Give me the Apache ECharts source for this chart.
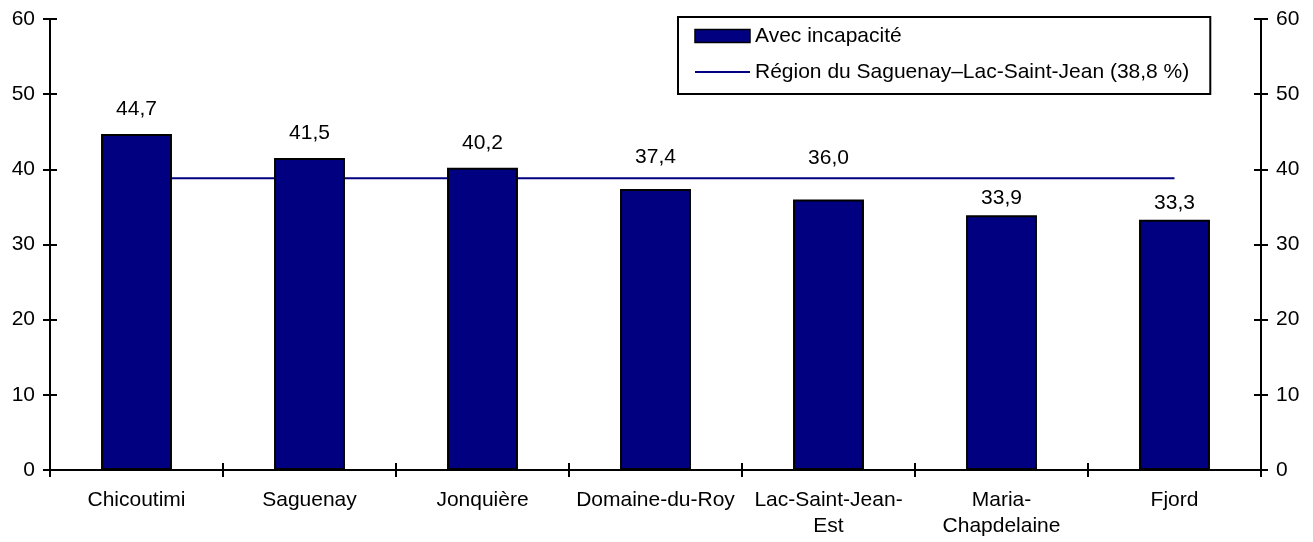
<!DOCTYPE html>
<html>
<head>
<meta charset="utf-8">
<script src="https://cdn.jsdelivr.net/npm/echarts@6/dist/echarts.min.js"></script>
<style>
  body { margin: 0; padding: 0; background: #fff; }
  #chart { width: 1313px; height: 542px; }
</style>
</head>
<body>
<div id="chart"></div>
<script>
// categories and values
const regions = ["Chicoutimi", "Saguenay", "Jonquière", "Domaine-du-Roy", "Lac-Saint-Jean-\nEst", "Maria-\nChapdelaine", "Fjord"];
const withDisability = [44.7, 41.5, 40.2, 37.4, 36.0, 33.9, 33.3];
const regionAverage = [38.8, 38.8, 38.8, 38.8, 38.8, 38.8, 38.8];
const yTicks = { min: 0, max: 60, step: 10 };

const font = "Liberation Sans, Arial, sans-serif";
const fs = 21;
const navy = "#000080";
// labels were nudged by hand in the original to clear the average line
const labelDistance = [14, 14, 14, 21, 31, 6, 6];

function yAx(pos, inside, showLabel) {
  return {
    type: "value",
    position: pos,
    min: yTicks.min,
    max: yTicks.max,
    interval: yTicks.step,
    splitLine: { show: false },
    axisLine: { show: true, lineStyle: { color: "#000", width: 2 } },
    axisTick: { show: true, inside: inside, length: 7, lineStyle: { color: "#000", width: 2 } },
    axisLabel: { show: showLabel, color: "#000", fontFamily: font, fontSize: fs, margin: 15 }
  };
}

function xAx(inside, showLabel) {
  return {
    type: "category",
    data: regions,
    position: "bottom",
    axisLine: { show: true, lineStyle: { color: "#000", width: 2 } },
    axisTick: { show: true, inside: inside, length: 7, lineStyle: { color: "#000", width: 2 } },
    axisLabel: { show: showLabel, color: "#000", fontFamily: font, fontSize: fs, margin: 17, lineHeight: 26, interval: 0 }
  };
}

const barData = withDisability.map((v, i) => ({
  value: v,
  label: { distance: labelDistance[i] }
}));

const chart = echarts.init(document.getElementById("chart"));
chart.setOption({
  animation: false,
  grid: { left: 50, right: 52, top: 19, bottom: 72, containLabel: false },
  legend: {
    left: 678,
    top: 17,
    orient: "vertical",
    padding: [8, 21, 11, 16],
    itemGap: 14,
    itemWidth: 55,
    itemHeight: 13,
    borderColor: "#000",
    borderWidth: 2,
    borderRadius: 0,
    textStyle: { color: "#000", fontFamily: font, fontSize: fs, lineHeight: 22 },
    data: [
      { name: "Avec incapacité", icon: "rect", itemStyle: { borderColor: "#000", borderWidth: 1.5 } },
      { name: "Région du Saguenay–Lac-Saint-Jean (38,8 %)", itemStyle: { opacity: 0 } }
    ]
  },
  xAxis: [xAx(false, true), xAx(true, false)],
  yAxis: [yAx("left", false, true), yAx("right", false, true), yAx("left", true, false), yAx("right", true, false)],
  series: [
    {
      name: "Avec incapacité",
      type: "bar",
      data: barData,
      barWidth: "41%",
      itemStyle: { color: navy, borderColor: "#000", borderWidth: 2 },
      label: {
        show: true, position: "top", color: "#000",
        fontFamily: font, fontSize: fs,
        formatter: p => p.value.toFixed(1).replace(".", ",")
      },
      z: 2
    },
    {
      name: "Région du Saguenay–Lac-Saint-Jean (38,8 %)",
      type: "line",
      data: regionAverage,
      symbol: "none",
      lineStyle: { color: navy, width: 2 },
      itemStyle: { color: navy },
      z: 1
    }
  ]
});
</script>
</body>
</html>
